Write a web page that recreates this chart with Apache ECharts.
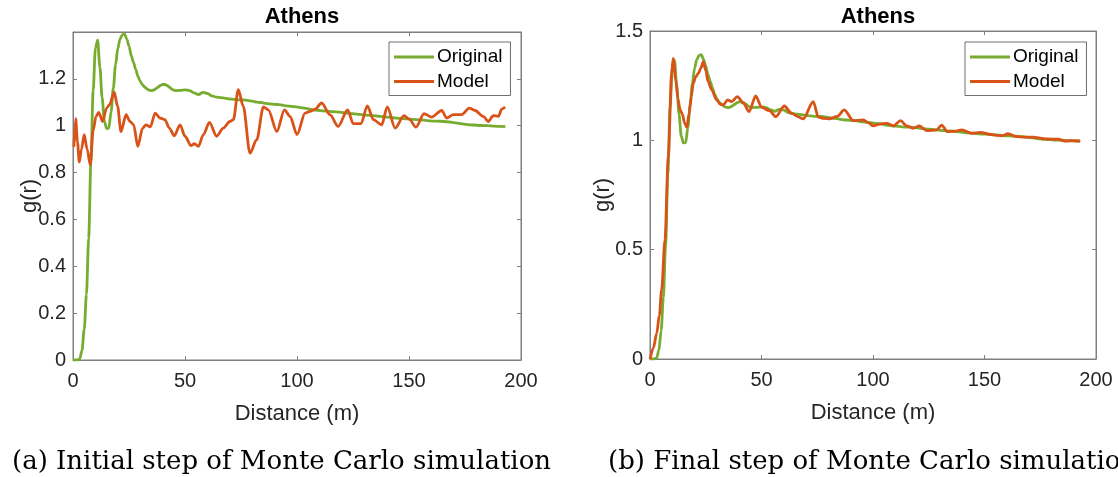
<!DOCTYPE html>
<html>
<head>
<meta charset="utf-8">
<script src="https://cdn.jsdelivr.net/npm/echarts@6/dist/echarts.min.js"></script>
<style>
  html, body { margin: 0; padding: 0; background: #fff; }
  #chart { width: 1118px; height: 477px; }
</style>
</head>
<body>
<div id="chart"></div>
<script>
// Pair correlation g(r) of the original point pattern (same in both panels)
const distOriginal = [0, 2, 3, 4, 5, 6, 7, 8, 9, 10, 11, 12, 13, 14, 15, 16, 17, 18, 19, 20, 21, 22, 23, 24, 25, 26, 27, 28, 29, 30, 31, 32, 33, 34, 35, 36, 37, 38, 39, 40, 41, 42, 43, 44, 45, 46, 48, 50, 52, 54, 56, 58, 60, 62, 64, 66, 68, 70, 72, 74, 76, 78, 80, 82, 84, 86, 88, 90, 92, 95, 98, 101, 104, 107, 110, 113, 116, 119, 122, 125, 128, 131, 134, 137, 140, 143, 146, 149, 152, 155, 158, 161, 164, 167, 170, 173, 176, 179, 182, 185, 188, 191, 193];
const gOriginal = [0, 0, 0.005, 0.04, 0.13, 0.28, 0.52, 0.85, 1.15, 1.33, 1.365, 1.25, 1.12, 1.02, 0.988, 0.99, 1.06, 1.16, 1.26, 1.33, 1.37, 1.388, 1.392, 1.37, 1.34, 1.3, 1.27, 1.24, 1.21, 1.19, 1.175, 1.165, 1.157, 1.152, 1.15, 1.152, 1.158, 1.165, 1.172, 1.176, 1.176, 1.172, 1.165, 1.157, 1.152, 1.15, 1.151, 1.153, 1.15, 1.14, 1.133, 1.142, 1.138, 1.127, 1.122, 1.12, 1.117, 1.114, 1.112, 1.11, 1.11, 1.108, 1.105, 1.101, 1.099, 1.095, 1.093, 1.091, 1.09, 1.085, 1.082, 1.078, 1.074, 1.068, 1.065, 1.062, 1.06, 1.058, 1.054, 1.051, 1.048, 1.045, 1.043, 1.04, 1.037, 1.034, 1.031, 1.029, 1.027, 1.025, 1.022, 1.02, 1.019, 1.017, 1.013, 1.009, 1.005, 1.003, 1.001, 1.0, 0.998, 0.997, 0.996];

// Model g(r) at the initial Monte Carlo step
const distInitial = [0.4, 1.2, 2.0, 2.8, 3.8, 5.0, 6.3, 7.7, 9.0, 10.3, 11.5, 13.2, 15.0, 16.3, 18.4, 19.9, 21.4, 23.7, 25.4, 27.1, 28.9, 31.1, 32.6, 34.5, 36.7, 38.8, 41.0, 43.0, 45.2, 47.8, 50.0, 52.7, 54.2, 56.0, 58.2, 60.9, 64.1, 67.1, 70.0, 71.6, 73.8, 76.0, 79.0, 82.0, 85.0, 87.2, 91.0, 94.4, 96.9, 100.0, 103.6, 105.8, 108.0, 111.0, 114.7, 118.4, 122.6, 125.1, 128.6, 131.4, 134.1, 137.8, 140.3, 143.8, 147.8, 150.1, 153.1, 156.7, 160.1, 164.6, 166.8, 169.8, 173.5, 176.9, 179.5, 183.2, 185.4, 187.6, 189.9, 191.4, 192.9];
const gInitial = [0.91, 1.03, 0.93, 0.845, 0.9, 0.962, 0.9, 0.833, 0.98, 1.04, 1.057, 1.018, 1.075, 1.09, 1.143, 1.083, 0.975, 1.047, 1.018, 1.004, 0.912, 0.99, 1.004, 0.995, 1.054, 1.033, 1.026, 0.99, 0.957, 1.004, 0.955, 0.915, 0.923, 0.912, 0.962, 1.014, 0.955, 0.99, 1.018, 1.026, 1.154, 1.083, 0.883, 0.94, 1.08, 1.068, 0.975, 1.068, 1.04, 0.962, 1.054, 1.061, 1.07, 1.097, 1.047, 0.997, 1.068, 1.009, 1.009, 1.085, 1.026, 1.004, 1.08, 0.99, 1.043, 1.028, 0.994, 1.051, 1.037, 1.065, 1.033, 1.047, 1.047, 1.075, 1.065, 1.04, 1.018, 1.043, 1.04, 1.071, 1.08];

// Model g(r) at the final Monte Carlo step
const distFinal = [0, 1.5, 3, 4.2, 5.2, 6.7, 8.2, 9.7, 10.4, 11.5, 12.5, 13.5, 14.5, 15.5, 16.5, 17.5, 18.5, 19.4, 20.5, 21.7, 22.8, 23.9, 25, 26, 27.7, 29.9, 31.5, 32.9, 34.8, 36.6, 39.2, 41.9, 44.4, 47.4, 50.1, 53.5, 56.4, 60.2, 63.5, 66, 68.7, 73.2, 75.5, 78, 80.7, 84, 87.1, 91.2, 95.6, 98, 100.1, 103, 106.1, 109.1, 112.4, 115.1, 118, 120.8, 124.1, 128.6, 130.8, 133.3, 136.5, 139.8, 144.2, 148, 153.9, 158, 160.5, 164.4, 168, 171.9, 175, 177.9, 183.1, 186.1, 189, 192.8];
const gFinal = [0, 0.05, 0.117, 0.2, 0.316, 0.544, 0.925, 1.307, 1.375, 1.28, 1.19, 1.14, 1.12, 1.08, 1.06, 1.12, 1.2, 1.261, 1.29, 1.307, 1.33, 1.36, 1.32, 1.27, 1.23, 1.185, 1.165, 1.162, 1.185, 1.177, 1.2, 1.17, 1.131, 1.203, 1.151, 1.136, 1.108, 1.157, 1.124, 1.11, 1.098, 1.177, 1.106, 1.1, 1.098, 1.11, 1.139, 1.09, 1.093, 1.08, 1.066, 1.074, 1.078, 1.066, 1.09, 1.066, 1.055, 1.066, 1.044, 1.048, 1.07, 1.04, 1.042, 1.048, 1.032, 1.036, 1.025, 1.021, 1.03, 1.017, 1.015, 1.014, 1.01, 1.006, 1.005, 0.997, 0.999, 0.997];

// Axis ticks
const distTicks = [0, 50, 100, 150, 200];
const gTicksInitial = [0, 0.2, 0.4, 0.6, 0.8, 1, 1.2];
const gTicksFinal = [0, 0.5, 1, 1.5];
const gMaxInitial = 1.4;

const panelTitles = ['Athens', 'Athens'];
const captions = ['(a) Initial step of Monte Carlo simulation', '(b) Final step of Monte Carlo simulation'];
const seriesNames = ['Original', 'Model'];

const GREEN = '#77AC30';
const ORANGE = '#D95319';
const AXIS_GRAY = '#7f7f7f';
const TEXT = '#262626';
const SANS = '"Liberation Sans", Arial, sans-serif';

const zip = (xs, ys) => xs.map((x, i) => [x, ys[i]]);

// Plot boxes are outlined like a boxed axes
const grids = [
  { left: 73, right: 597, top: 32, bottom: 117, show: true, borderColor: AXIS_GRAY, borderWidth: 1, backgroundColor: 'transparent' },
  { left: 650, right: 22, top: 31, bottom: 118, show: true, borderColor: AXIS_GRAY, borderWidth: 1, backgroundColor: 'transparent' }
];

function xAxes(gridIndex) {
  const common = {
    type: 'value', gridIndex,
    min: distTicks[0], max: distTicks[distTicks.length - 1],
    interval: distTicks[1] - distTicks[0],
    splitLine: { show: false },
    axisLine: { show: true, onZero: false, lineStyle: { color: AXIS_GRAY, width: 1 } },
    axisTick: { show: true, inside: true, length: 4, lineStyle: { color: AXIS_GRAY } }
  };
  return [
    Object.assign({}, common, {
      position: 'bottom',
      name: 'Distance (m)', nameLocation: 'middle', nameGap: 43, nameMoveOverlap: false,
      nameTextStyle: { fontFamily: SANS, fontSize: 22, color: TEXT },
      axisLabel: { fontFamily: SANS, fontSize: 20, color: TEXT, margin: 11 }
    }),
    Object.assign({}, common, { position: 'top', axisLabel: { show: false } })
  ];
}

function yAxes(gridIndex, ticks, max, nameGap) {
  const common = {
    type: 'value', gridIndex,
    min: ticks[0], max,
    interval: ticks[1] - ticks[0],
    splitLine: { show: false },
    axisLine: { show: true, onZero: false, lineStyle: { color: AXIS_GRAY, width: 1 } },
    axisTick: { show: true, inside: true, length: 4, customValues: ticks, lineStyle: { color: AXIS_GRAY } }
  };
  return [
    Object.assign({}, common, {
      position: 'left',
      name: 'g(r)', nameLocation: 'middle', nameGap, nameMoveOverlap: false,
      nameTextStyle: { fontFamily: SANS, fontSize: 22, color: TEXT },
      axisLabel: { fontFamily: SANS, fontSize: 20, color: TEXT, margin: 7, customValues: ticks }
    }),
    Object.assign({}, common, { position: 'right', axisLabel: { show: false } })
  ];
}

function lineSeries(name, data, color, xIdx, yIdx) {
  return {
    type: 'line', name, data,
    xAxisIndex: xIdx, yAxisIndex: yIdx,
    showSymbol: false, symbol: 'none',
    smooth: 0.3, smoothMonotone: 'x',
    lineStyle: { color, width: 2.8 },
    itemStyle: { color },
    z: name === 'Model' ? 3 : 2,
    animation: false
  };
}

// Empty series so the top/right axes of each box draw their ticks
function frameSeries(xIdx, yIdx) {
  return { type: 'line', data: [], xAxisIndex: xIdx, yAxisIndex: yIdx, silent: true, symbol: 'none' };
}

function legendAt(left) {
  return {
    orient: 'vertical', left, top: 42,
    data: seriesNames,
    icon: 'rect', itemWidth: 40, itemHeight: 3, itemGap: 4.5,
    padding: [5, 8, 4, 5],
    backgroundColor: '#fff',
    borderColor: '#6e6e6e', borderWidth: 1, borderRadius: 0,
    selectedMode: false,
    textStyle: { fontFamily: SANS, fontSize: 19, color: '#000', lineHeight: 20, padding: [0, 0, 0, -2] }
  };
}

const chart = echarts.init(document.getElementById('chart'), null, { renderer: 'canvas' });

chart.setOption({
  animation: false,
  backgroundColor: '#fff',
  title: [
    { text: panelTitles[0], left: 297, top: 1, textAlign: 'center',
      textStyle: { fontFamily: SANS, fontSize: 22, fontWeight: 'bold', color: '#000' } },
    { text: panelTitles[1], left: 873, top: 1, textAlign: 'center',
      textStyle: { fontFamily: SANS, fontSize: 22, fontWeight: 'bold', color: '#000' } }
  ],
  grid: grids,
  xAxis: [...xAxes(0), ...xAxes(1)],
  yAxis: [...yAxes(0, gTicksInitial, gMaxInitial, 32), ...yAxes(1, gTicksFinal, gTicksFinal[gTicksFinal.length - 1], 36)],
  legend: [legendAt(389), legendAt(965)],
  series: [
    lineSeries('Original', zip(distOriginal, gOriginal), GREEN, 0, 0),
    lineSeries('Model', zip(distInitial, gInitial), ORANGE, 0, 0),
    frameSeries(1, 1),
    lineSeries('Original', zip(distOriginal, gOriginal), GREEN, 2, 2),
    lineSeries('Model', zip(distFinal, gFinal), ORANGE, 2, 2),
    frameSeries(3, 3)
  ],
  graphic: [
    { type: 'text', left: 12, top: 449,
      style: { text: captions[0], font: '26px "DejaVu Serif"', fill: '#000' } },
    { type: 'text', left: 608, top: 449,
      style: { text: captions[1], font: '26px "DejaVu Serif"', fill: '#000' } }
  ]
});
</script>
</body>
</html>
